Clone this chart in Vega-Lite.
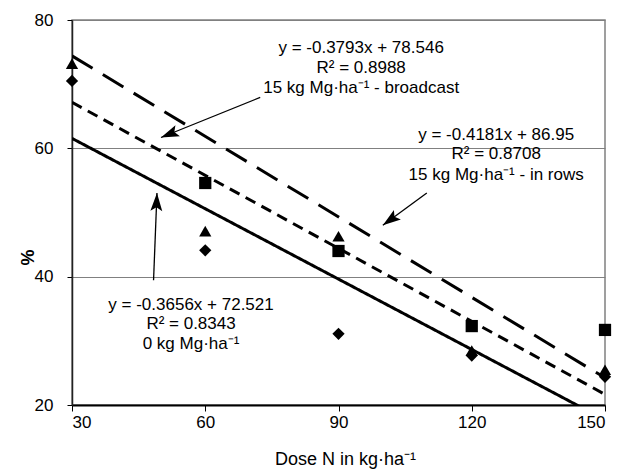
{
  "$schema": "https://vega.github.io/schema/vega-lite/v6.json",
  "width": 533,
  "height": 385,
  "autosize": {"type": "none"},
  "padding": {"left": 72, "top": 20, "right": 13, "bottom": 67},
  "background": "white",
  "config": {
    "font": "Liberation Sans",
    "view": {"stroke": "#808080", "strokeWidth": 1.5},
    "axis": {"labelColor": "black", "titleColor": "black", "labelFont": "Liberation Sans", "titleFont": "Liberation Sans"}
  },
  "datasets": {
    "points": [
      {"dose": 30, "value": 70.5, "treatment": "0 kg"},
      {"dose": 60, "value": 44.1, "treatment": "0 kg"},
      {"dose": 90, "value": 31.1, "treatment": "0 kg"},
      {"dose": 120, "value": 27.7, "treatment": "0 kg"},
      {"dose": 150, "value": 24.4, "treatment": "0 kg"},
      {"dose": 30, "value": 73.2, "treatment": "broadcast"},
      {"dose": 60, "value": 47.1, "treatment": "broadcast"},
      {"dose": 90, "value": 46.3, "treatment": "broadcast"},
      {"dose": 120, "value": 28.5, "treatment": "broadcast"},
      {"dose": 150, "value": 25.5, "treatment": "broadcast"},
      {"dose": 60, "value": 54.6, "treatment": "in rows"},
      {"dose": 90, "value": 44.0, "treatment": "in rows"},
      {"dose": 120, "value": 32.3, "treatment": "in rows"},
      {"dose": 150, "value": 31.7, "treatment": "in rows"}
    ],
    "trends": [
      {"dose": 30, "value": 61.553, "treatment": "0 kg"},
      {"dose": 150, "value": 17.681, "treatment": "0 kg"},
      {"dose": 30, "value": 67.167, "treatment": "broadcast"},
      {"dose": 150, "value": 21.651, "treatment": "broadcast"},
      {"dose": 30, "value": 74.407, "treatment": "in rows"},
      {"dose": 150, "value": 24.235, "treatment": "in rows"}
    ],
    "labels": [
      {"dose": 95.1, "value": 75.68, "text": "y = -0.3793x + 78.546"},
      {"dose": 95.1, "value": 72.56, "text": "R² = 0.8988"},
      {"dose": 95.1, "value": 69.34, "text": "15 kg Mg·ha⁻¹ - broadcast"},
      {"dose": 125.5, "value": 62.05, "text": "y = -0.4181x + 86.95"},
      {"dose": 125.5, "value": 59.09, "text": "R² = 0.8708"},
      {"dose": 125.5, "value": 55.81, "text": "15 kg Mg·ha⁻¹ - in rows"},
      {"dose": 56.8, "value": 35.52, "text": "y = -0.3656x + 72.521"},
      {"dose": 56.8, "value": 32.56, "text": "R² = 0.8343"},
      {"dose": 56.8, "value": 29.44, "text": "0 kg Mg·ha⁻¹"}
    ],
    "arrows": [
      {"id": "broadcast", "dose": 72.37, "value": 67.94, "dose2": 50.03, "value2": 61.69},
      {"id": "in rows", "dose": 109.88, "value": 53.05, "dose2": 99.98, "value2": 48.01},
      {"id": "0 kg", "dose": 48.36, "value": 39.43, "dose2": 49.13, "value2": 53.05}
    ]
  },
  "encoding": {
    "x": {
      "field": "dose", "type": "quantitative",
      "scale": {"domain": [30, 150], "nice": false, "zero": false},
      "axis": {
        "values": [30, 60, 90, 120, 150],
        "title": "Dose N in kg·ha⁻¹",
        "titleFontSize": 18, "titleFontWeight": "normal",
        "titleBaseline": "top", "titleY": 45, "titleX": 273,
        "labelFontSize": 17, "labelPadding": 3,
        "tickSize": 6, "tickColor": "black", "tickWidth": 1,
        "domainColor": "black", "domainWidth": 2,
        "grid": false
      }
    },
    "y": {
      "field": "value", "type": "quantitative",
      "scale": {"domain": [20, 80], "nice": false, "zero": false},
      "axis": {
        "values": [20, 40, 60, 80],
        "title": "%",
        "titleFontSize": 18, "titleFontWeight": "bold",
        "titleAngle": -90, "titleAlign": "center", "titleBaseline": "middle",
        "titleX": -44, "titleY": 237,
        "labelFontSize": 17, "labelPadding": 14,
        "tickSize": 5, "tickColor": "black", "tickWidth": 1,
        "domainColor": "#222222", "domainWidth": 1.5,
        "grid": true, "gridColor": "#808080", "gridWidth": 1
      }
    }
  },
  "layer": [
    {
      "data": {"name": "trends"},
      "mark": {"type": "line", "color": "black", "strokeWidth": 3, "clip": true},
      "encoding": {
        "strokeDash": {
          "field": "treatment", "type": "nominal",
          "scale": {"domain": ["0 kg", "broadcast", "in rows"], "range": [[1, 0], [11, 7], [24, 12]]},
          "legend": null
        }
      }
    },
    {
      "data": {"name": "points"},
      "mark": {"type": "point", "filled": true, "color": "black", "opacity": 1, "size": 150},
      "encoding": {
        "shape": {
          "field": "treatment", "type": "nominal",
          "scale": {"domain": ["0 kg", "broadcast", "in rows"], "range": ["diamond", "triangle-up", "square"]},
          "legend": null
        }
      }
    },
    {
      "data": {"name": "labels"},
      "mark": {"type": "text", "fontSize": 17, "color": "black", "align": "center", "baseline": "middle", "font": "Liberation Sans"},
      "encoding": {"text": {"field": "text", "type": "nominal"}}
    },
    {
      "data": {"name": "arrows"},
      "mark": {"type": "rule", "color": "black", "strokeWidth": 1.3},
      "encoding": {
        "x2": {"field": "dose2"},
        "y2": {"field": "value2"}
      }
    },
    {
      "data": {"name": "arrows"},
      "transform": [{"filter": "datum.id === 'broadcast'"}],
      "mark": {"type": "point", "filled": true, "color": "black", "opacity": 1, "size": 1296, "angle": 248, "shape": "M0,0 L-0.33,1 L0,0.8 L0.33,1 Z"},
      "encoding": {
        "x": {"field": "dose2", "type": "quantitative"},
        "y": {"field": "value2", "type": "quantitative"}
      }
    },
    {
      "data": {"name": "arrows"},
      "transform": [{"filter": "datum.id === 'in rows'"}],
      "mark": {"type": "point", "filled": true, "color": "black", "opacity": 1, "size": 1296, "angle": 234, "shape": "M0,0 L-0.33,1 L0,0.8 L0.33,1 Z"},
      "encoding": {
        "x": {"field": "dose2", "type": "quantitative"},
        "y": {"field": "value2", "type": "quantitative"}
      }
    },
    {
      "data": {"name": "arrows"},
      "transform": [{"filter": "datum.id === '0 kg'"}],
      "mark": {"type": "point", "filled": true, "color": "black", "opacity": 1, "size": 1296, "angle": 2, "shape": "M0,0 L-0.33,1 L0,0.8 L0.33,1 Z"},
      "encoding": {
        "x": {"field": "dose2", "type": "quantitative"},
        "y": {"field": "value2", "type": "quantitative"}
      }
    }
  ]
}
